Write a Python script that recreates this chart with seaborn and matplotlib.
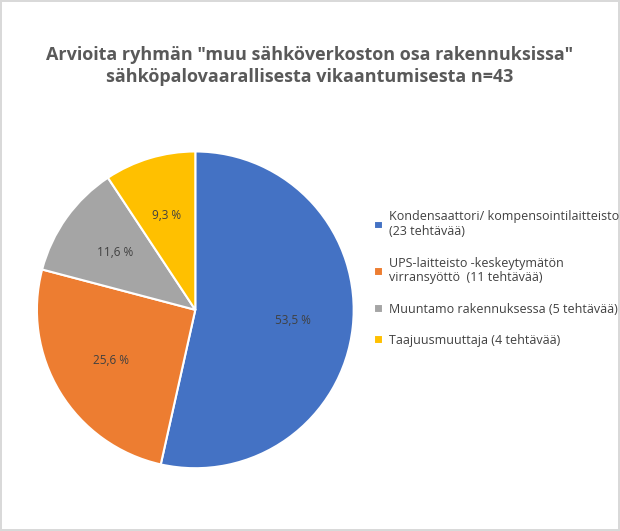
import matplotlib
matplotlib.use("Agg")
import matplotlib.pyplot as plt
import numpy as np
import seaborn as sns

sns.set_theme(style="white")
plt.rcParams['font.family'] = ['Open Sans', 'DejaVu Sans']

# Data
labels = ["Kondensaattori/ kompensointilaitteisto\n(23 tehtävää)",
          "UPS-laitteisto -keskeytymätön\nvirransyöttö  (11 tehtävää)",
          "Muuntamo rakennuksessa (5 tehtävää)",
          "Taajuusmuuttaja (4 tehtävää)"]
shares = [53.5, 25.6, 11.6, 9.3]
colors = ["#4472C4", "#ED7D31", "#A5A5A5", "#FFC000"]

fig = plt.figure(figsize=(6.2, 5.31), dpi=100)
fig.patch.set_edgecolor("#D9D9D9")
fig.patch.set_linewidth(1.5)

ax = fig.add_axes([0.057, 0.115, 0.516, 0.603])
wedges, texts = ax.pie(shares, colors=colors, startangle=90, counterclock=False,
                       wedgeprops=dict(edgecolor="white", linewidth=1.5))
for w, v in zip(wedges, shares):
    ang = np.deg2rad((w.theta1 + w.theta2) / 2)
    ax.text(0.62 * np.cos(ang), 0.62 * np.sin(ang),
            f"{v:.1f} %".replace(".", ","), ha="center", va="center",
            fontsize=8.5, color="#404040")
ax.set_xlim(-1.01, 1.01)
ax.set_ylim(-1.01, 1.01)
ax.set_aspect("equal")

fig.text(0.5, 0.875, 'Arvioita ryhmän "muu sähköverkoston osa rakennuksissa"\nsähköpalovaarallisesta vikaantumisesta n=43',
         ha="center", va="center", fontsize=13, fontweight="bold", color="#595959",
         linespacing=1.3)

fig.legend(wedges, labels, loc="upper left", bbox_to_anchor=(0.585, 0.625),
           frameon=False, fontsize=9, handlelength=0.7, handleheight=0.7,
           labelspacing=1.45, labelcolor="#404040", handletextpad=0.5)

fig.savefig("out.png", dpi=100)
